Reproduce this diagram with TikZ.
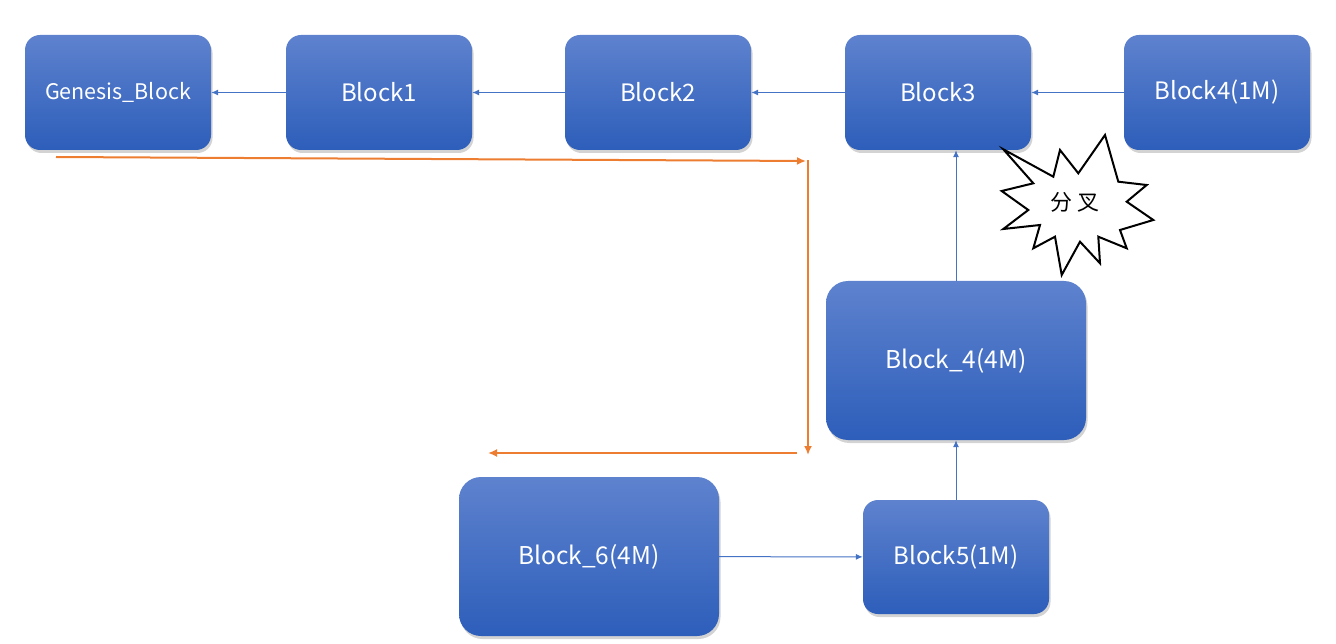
\documentclass[tikz,border=0pt]{standalone}
\usepackage{fontspec}
\setmainfont{Noto Sans CJK SC}
\usetikzlibrary{shadows,arrows.meta}
\definecolor{blk top}{HTML}{5E82CE}
\definecolor{blk bot}{HTML}{2D5EBA}
\definecolor{conn}{HTML}{4472C4}
\definecolor{orng}{HTML}{ED7D31}
\tikzset{
  blockbox/.style={rounded corners=#1, top color=blk top, bottom color=blk bot, draw=none,
    drop shadow={opacity=0.35, shadow xshift=1.5pt, shadow yshift=-3pt},
    text=white, font=\fontsize{24}{28}\selectfont, inner sep=0pt, align=center},
  blockbox/.default=15pt,
  link/.style={draw=conn, line width=1pt, -{Latex[length=7pt,width=6pt]}},
  orangelink/.style={draw=orng, line width=2pt, -{Latex[length=9pt,width=8pt]}},
}
\begin{document}
\begin{tikzpicture}[x=1pt,y=-1pt]
\useasboundingbox (0,0) rectangle (1336,644);
% blocks
\node[blockbox, minimum width=186pt, minimum height=115pt, font=\fontsize{21.5}{24}\selectfont] (gen) at (118,92.5) {Genesis\_Block};
\node[blockbox, minimum width=186pt, minimum height=115pt] (b1) at (379,92.5) {Block1};
\node[blockbox, minimum width=186pt, minimum height=115pt] (b2) at (658,92.5) {Block2};
\node[blockbox, minimum width=186pt, minimum height=115pt] (b3) at (938,92.5) {Block3};
\node[blockbox, minimum width=186pt, minimum height=115pt] (b4) at (1217,92.5) {Block4(1M)};
\node[blockbox=22pt, minimum width=260pt, minimum height=159pt, font=\fontsize{24.5}{28}\selectfont] (b44) at (956,360.5) {Block\_4(4M)};
\node[blockbox=22pt, minimum width=260pt, minimum height=159pt, font=\fontsize{24.5}{28}\selectfont] (b6) at (589,556.5) {Block\_6(4M)};
\node[blockbox, minimum width=186pt, minimum height=114pt] (b5) at (956,557) {Block5(1M)};
% blue links
\draw[link] (b1) -- (gen);
\draw[link] (b2) -- (b1);
\draw[link] (b3) -- (b2);
\draw[link] (b4) -- (b3);
\draw[link] (b44.north) -- (b44.north |- b3.south);
\draw[link] (b5) -- (b44);
\draw[link] (b6) -- (b5);
% orange arrows
\coordinate (o1) at (56,157);
\coordinate (o2) at (806,161);
\coordinate (o3) at (808,160);
\coordinate (o4) at (808,455);
\coordinate (o5) at (797,453);
\coordinate (o6) at (488,453);
\draw[orangelink] (o1) -- (o2);
\draw[orangelink] (o3) -- (o4);
\draw[orangelink] (o5) -- (o6);
% starburst
\draw[black, line width=2pt, fill=white, line join=miter]
 (1003.3,149.3) -- (1053.3,176.7) -- (1060,150) -- (1078.3,173.3) -- (1105,135) -- (1118.3,181.7)
 -- (1146.7,185) -- (1126.7,201.7) -- (1153.3,220) -- (1120,230) -- (1126.7,248.3) -- (1098.3,236.7)
 -- (1100,263.3) -- (1080,241.7) -- (1061.7,275) -- (1055,236.7) -- (1033.3,248.3) -- (1040,225)
 -- (1003.3,229) -- (1028.3,210) -- (1001.7,191) -- (1033.3,183.3) -- cycle;
\node[font=\fontsize{22}{26}\selectfont, inner sep=0pt] (fork) at (1075,202) {分 叉};
\end{tikzpicture}
\end{document}
